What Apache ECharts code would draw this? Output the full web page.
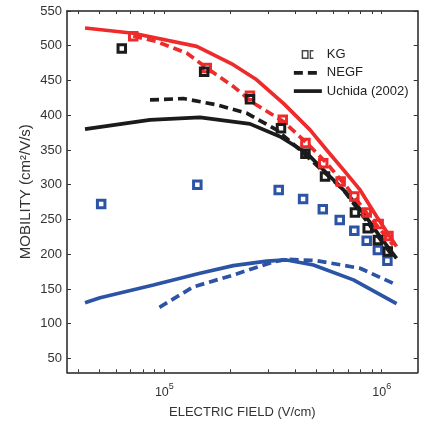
<!DOCTYPE html>
<html><head><meta charset="utf-8">
<script src="https://cdn.jsdelivr.net/npm/echarts@6/dist/echarts.min.js"></script>
<style>html,body{margin:0;padding:0;background:#fff}#c{width:427px;height:423px}</style>
</head><body><div id="c"></div>
<script>
// ---- data ----
const redSolidX = [43150, 71900, 140900, 207500, 266000, 353000, 468000, 558000, 667000, 795000, 949000, 1170000];
const redSolidY = [525.5, 518, 499, 472.7, 451, 417, 379, 350, 321.4, 292.5, 254, 211];
const redDashX = [71900, 92200, 126700, 156700, 207500, 257000, 353000, 452000, 558000, 690000, 853000, 1130000];
const redDashY = [514, 506, 489.5, 468, 441.5, 417.5, 391, 360, 331, 297, 259, 213];
const blackSolidX = [43150, 85900, 145800, 247500, 340000, 452000, 578000, 690000, 824000, 982000, 1170000];
const blackSolidY = [380, 393.4, 397, 387.6, 369.4, 345.4, 311.8, 287.8, 259, 225.3, 194];
const blackDashX = [85900, 122300, 174000, 239000, 328600, 421000, 667000, 1130000];
const blackDashY = [422, 424, 415, 403, 379, 350, 292.5, 196];
const blueSolidX = [43150, 50600, 89000, 145800, 207500, 296000, 365000, 485000, 741000, 1170000];
const blueSolidY = [130, 137.4, 155.7, 172.5, 183.5, 190, 191.7, 184.5, 163, 129];
const blueDashX = [94900, 135900, 207500, 317600, 365000, 502000, 795000, 1130000];
const blueDashY = [123.5, 153, 170, 189, 192.6, 190.7, 179.7, 158];
const kgBlackX = [63700, 152400, 247600, 344000, 445700, 548500, 753000, 862000, 960000, 1066000];
const kgBlackY = [496, 462.6, 423, 381.4, 344.4, 311.8, 259.9, 237.3, 220.5, 203.7];
const kgRedX = [71900, 156700, 247600, 350600, 445700, 538000, 647000, 748000, 853000, 968000, 1074000];
const kgRedY = [513.5, 468, 428, 393.4, 360, 331, 304.6, 283, 260, 243.6, 226];
const kgBlueX = [51200, 141800, 335800, 434800, 535700, 641000, 748000, 853000, 960000, 1062000];
const kgBlueY = [272.4, 299.8, 292.5, 279.6, 264.7, 249.3, 233.9, 219.5, 206, 190.7];
const yTicks = [50, 100, 150, 200, 250, 300, 350, 400, 450, 500, 550];
const xTicks = [40000, 50000, 60000, 70000, 80000, 90000, 100000, 200000, 300000, 400000, 500000, 600000, 700000, 800000, 900000, 1000000];
const xLabels = [100000, 1000000];
const legendNames = ['KG', 'NEGF', 'Uchida (2002)'];

const zip = (xs, ys) => xs.map((x, i) => [x, ys[i]]);
const RED = '#ee2a2a', BLUE = '#2c54a6', BLACK = '#1b1b1b';
const LW = 3.7, DASH = [9, 5];
const FONT = 'Liberation Sans, Arial, sans-serif';
const KG_ICON = 'path://M0,0 L0,0 Z M28,10 L28,10 Z M7.8,0.6 H14.8 V9.4 H7.8 Z M9.3,2.1 V7.9 H13.3 V2.1 Z M15.8,0.6 H19.6 V1.9 H17.2 V8.1 H19.6 V9.4 H15.8 Z';

function line(name, xs, ys, color, dashed) {
  return { type: 'line', name, data: zip(xs, ys), symbol: 'none', smooth: false,
    lineStyle: { color, width: LW, type: dashed ? DASH : 'solid' }, silent: true, z: 2 };
}
function kg(xs, ys, color) {
  return { type: 'scatter', name: 'kg_' + color, data: zip(xs, ys), symbol: 'rect', symbolSize: 7.5,
    itemStyle: { color: 'transparent', borderColor: color, borderWidth: 3, opacity: 1 }, z: 3 };
}

const chart = echarts.init(document.getElementById('c'));
const xMin = 35650, xMax = 1464000, yMin = 30, yMax = 550;
const axisLineStyle = { color: '#222', width: 1.5 };
chart.setOption({
  animation: false,
  backgroundColor: '#fff',
  grid: { left: 67, right: 9.3, top: 11, bottom: 50.7, containLabel: false, outerBoundsMode: 'none' },
  xAxis: [{
    type: 'log', min: xMin, max: xMax, logBase: 10,
    name: 'ELECTRIC FIELD (V/cm)', nameLocation: 'middle', nameGap: 34,
    nameTextStyle: { fontFamily: FONT, fontSize: 13, color: '#333' },
    axisLine: { lineStyle: axisLineStyle },
    axisTick: { inside: true, length: 3, customValues: xTicks, lineStyle: { color: '#333', width: 1 } },
    axisLabel: { customValues: xLabels, margin: 10,
      formatter: v => '{b|10}{s|' + Math.round(Math.log10(v)) + '}',
      rich: { b: { fontFamily: FONT, fontSize: 12.5, color: '#333', lineHeight: 17, verticalAlign: 'bottom' },
              s: { fontFamily: FONT, fontSize: 9, color: '#333', lineHeight: 10, verticalAlign: 'top' } } },
    splitLine: { show: false }, minorTick: { show: false }
  }, {
    type: 'log', min: xMin, max: xMax, logBase: 10, position: 'top',
    axisLine: { lineStyle: axisLineStyle },
    axisTick: { inside: true, length: 3, customValues: xTicks, lineStyle: { color: '#333', width: 1 } },
    axisLabel: { show: false }, splitLine: { show: false }
  }],
  yAxis: [{
    type: 'value', min: yMin, max: yMax,
    name: 'MOBILITY (cm²/V/s)', nameLocation: 'middle', nameGap: 34, nameMoveOverlap: false,
    nameTextStyle: { fontFamily: FONT, fontSize: 15, color: '#333' },
    axisLine: { show: true, lineStyle: axisLineStyle },
    axisTick: { show: true, inside: true, length: 4, customValues: yTicks, lineStyle: { color: '#333', width: 1 } },
    axisLabel: { customValues: yTicks, margin: 5, fontFamily: FONT, fontSize: 13, color: '#333' },
    splitLine: { show: false }
  }, {
    type: 'value', min: yMin, max: yMax, position: 'right',
    axisLine: { show: true, lineStyle: axisLineStyle },
    axisTick: { show: true, inside: true, length: 4, customValues: yTicks, lineStyle: { color: '#333', width: 1 } },
    axisLabel: { show: false }, splitLine: { show: false }
  }],
  legend: [{
    orient: 'vertical', left: 287, top: 43, itemWidth: 28, itemHeight: 10, itemGap: 5.3,
    textStyle: { fontFamily: FONT, fontSize: 13, color: '#222' },
    data: [
      { name: legendNames[0], icon: KG_ICON, itemStyle: { color: BLACK, borderWidth: 0 } },
      { name: legendNames[1], itemStyle: { opacity: 0 }, lineStyle: { color: BLACK, width: LW, type: DASH } },
      { name: legendNames[2], itemStyle: { opacity: 0 }, lineStyle: { color: BLACK, width: LW, type: 'solid' } }
    ]
  }],
  series: [
    line('bs', blueSolidX, blueSolidY, BLUE, false),
    line('bd', blueDashX, blueDashY, BLUE, true),
    line('ks', blackSolidX, blackSolidY, BLACK, false),
    line('kd', blackDashX, blackDashY, BLACK, true),
    line('rs', redSolidX, redSolidY, RED, false),
    line('rd', redDashX, redDashY, RED, true),
    kg(kgBlueX, kgBlueY, BLUE),
    kg(kgRedX, kgRedY, RED),
    kg(kgBlackX, kgBlackY, BLACK),
    { type: 'scatter', name: legendNames[0], data: [], symbol: 'rect',
      itemStyle: { color: BLACK } },
    { type: 'line', name: legendNames[1], data: [], symbol: 'none', lineStyle: { color: BLACK, width: LW, type: DASH }, itemStyle: { color: BLACK } },
    { type: 'line', name: legendNames[2], data: [], symbol: 'none', lineStyle: { color: BLACK, width: LW }, itemStyle: { color: BLACK } }
  ]
});
</script>
</body></html>
